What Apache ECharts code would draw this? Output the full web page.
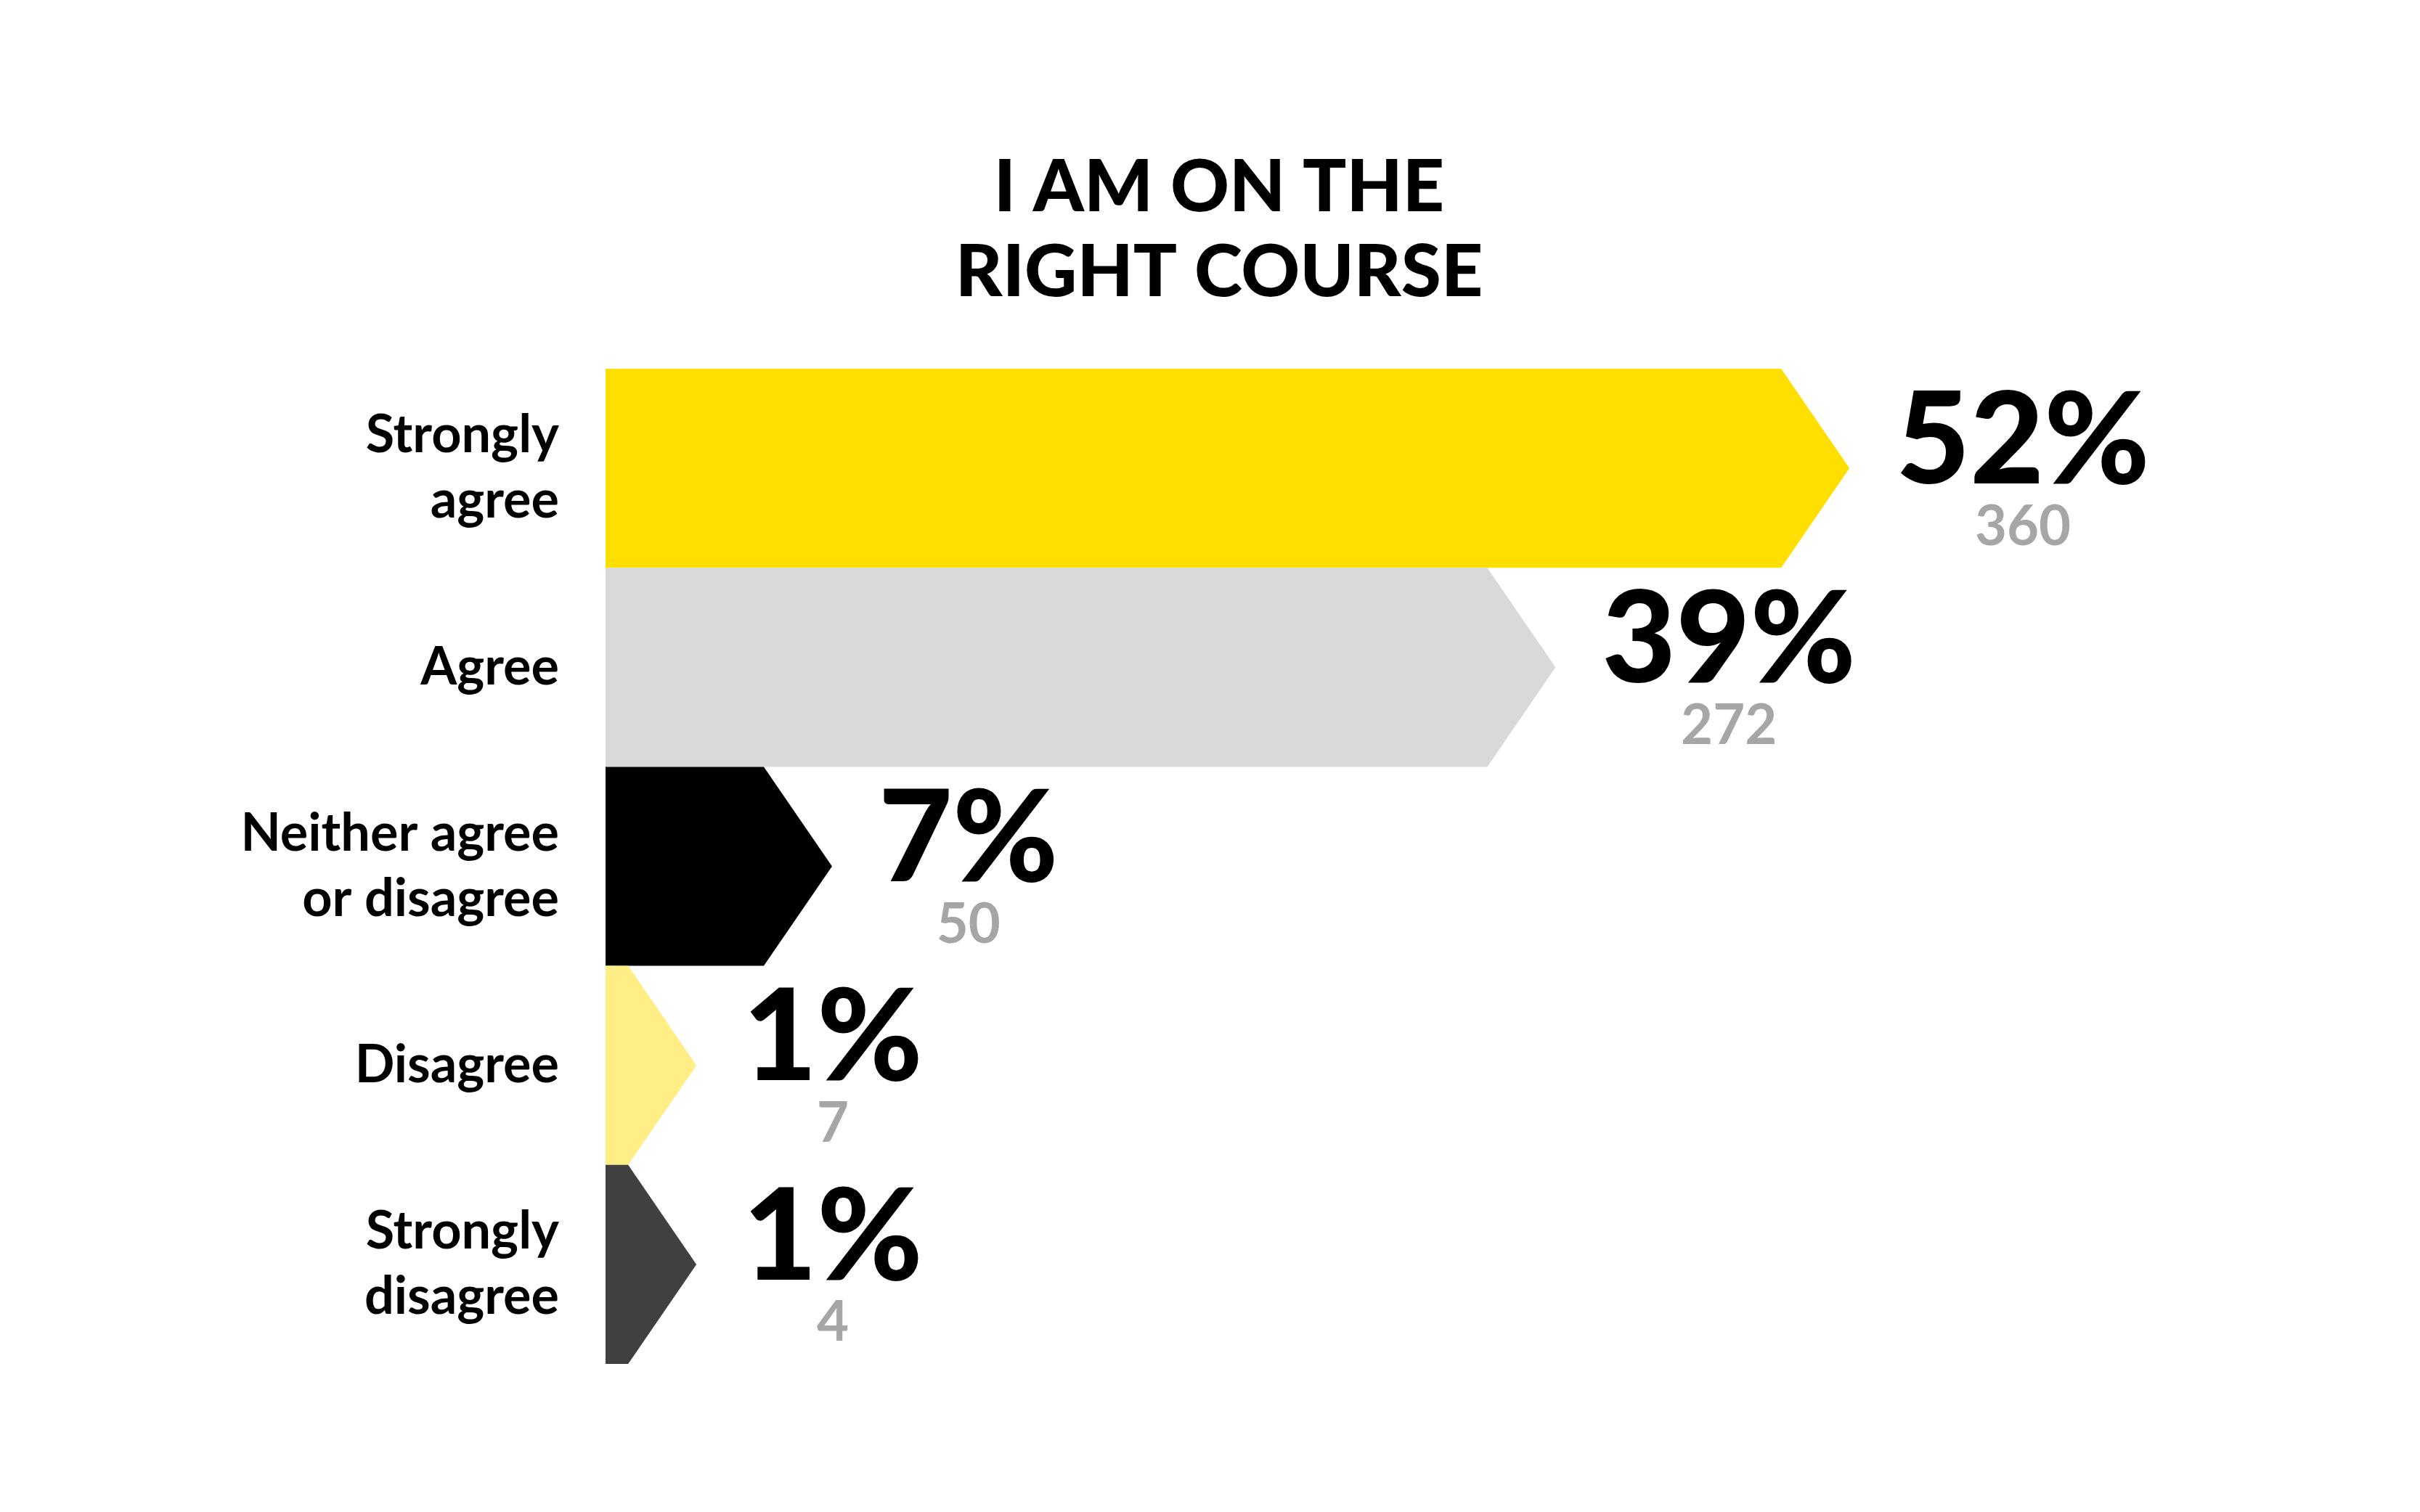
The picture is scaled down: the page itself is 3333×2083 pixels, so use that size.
<!DOCTYPE html>
<html>
<head>
<meta charset="utf-8">
<script src="https://cdn.jsdelivr.net/npm/echarts@6/dist/echarts.min.js"></script>
<style>html,body{margin:0;background:#fff}#chart{width:3333px;height:2083px}</style>
</head>
<body>
<div id="chart"></div>
<script>
var categories = ['Strongly\nagree', 'Agree', 'Neither agree\nor disagree', 'Disagree', 'Strongly\ndisagree'];
var percents = [52, 39, 7, 1, 1];
var counts = [360, 272, 50, 7, 4];
var colors = ['#FFDF00', '#D9D9D9', '#000000', '#FFED85', '#404040'];

var chart = echarts.init(document.getElementById('chart'));
var FONT = 'Lato';

var option = {
  backgroundColor: '#ffffff',
  title: {
    text: 'I AM ON THE\nRIGHT COURSE',
    left: 1674,
    textAlign: 'center',
    top: 195,
    textStyle: {fontFamily: FONT, fontWeight: 900, fontSize: 100, lineHeight: 117, color: '#000'}
  },
  grid: {left: 834, top: 508, width: 2491, height: 1371},
  xAxis: {type: 'value', min: 0, max: 80, show: false},
  yAxis: {
    type: 'category',
    data: categories,
    inverse: true,
    axisLine: {show: false},
    axisTick: {show: false},
    axisLabel: {
      margin: 64,
      fontFamily: FONT, fontWeight: 'bold', fontSize: 72, lineHeight: 90, color: '#000', align: 'right'
    }
  },
  series: [{
    type: 'custom',
    data: percents.map(function (p, i) { return [p, i]; }),
    renderItem: function (params, api) {
      var i = api.value(1);
      var start = api.coord([0, i]);
      var end = api.coord([api.value(0), i]);
      var h = api.size([0, 1])[1];
      var cy = start[1];
      var tip = 94;
      var x0 = start[0], x1 = end[0];
      var tipX = x1 + tip;
      var labelX = tipX + 64;
      return {
        type: 'group',
        children: [
          {
            type: 'polygon',
            shape: {points: [[x0, cy - h / 2], [x1, cy - h / 2], [tipX, cy], [x1, cy + h / 2], [x0, cy + h / 2]]},
            style: {fill: colors[i]}
          },
          {
            type: 'text',
            style: {
              text: percents[i] + '%', x: labelX, y: cy - 36,
              align: 'left', verticalAlign: 'middle',
              font: '900 176px ' + FONT, fill: '#000'
            }
          },
          {
            type: 'text',
            style: {
              text: String(counts[i]), x: labelX, y: cy + 81,
              align: 'left', verticalAlign: 'middle',
              font: 'bold 76px ' + FONT, fill: '#A7A5A5'
            },
            // center under percent text
            position: [0, 0]
          }
        ]
      };
    }
  }]
};
chart.setOption(option);

// center count labels under percent labels
var opt2 = option.series[0];
opt2.renderItem = (function (orig) {
  var ctx = document.createElement('canvas').getContext('2d');
  return function (params, api) {
    var g = orig(params, api);
    var pct = g.children[1].style, cnt = g.children[2].style;
    ctx.font = pct.font;
    var w = ctx.measureText(pct.text).width;
    cnt.x = pct.x + w / 2;
    cnt.align = 'center';
    return g;
  };
})(opt2.renderItem);
chart.setOption({series: [opt2]});
</script>
</body>
</html>
